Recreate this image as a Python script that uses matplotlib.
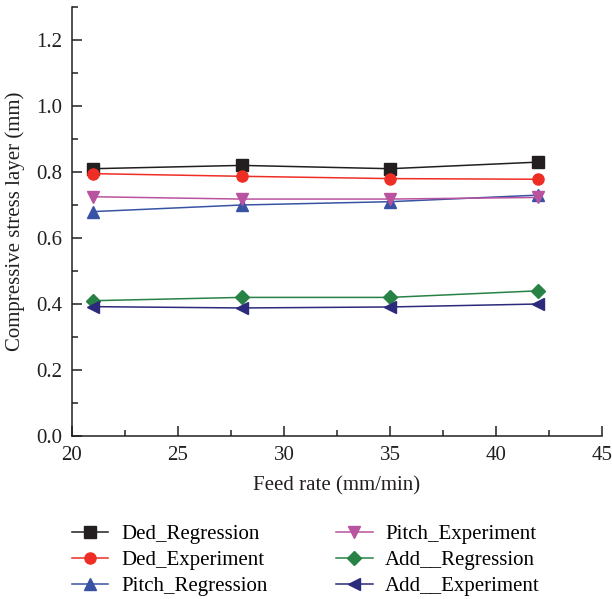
import matplotlib
matplotlib.use("Agg")
import matplotlib.pyplot as plt
from matplotlib.ticker import MultipleLocator

plt.rcParams['font.family'] = ['Liberation Serif', 'DejaVu Serif']

feed = [21, 28, 35, 42]
ded_reg = [0.81, 0.82, 0.81, 0.83]
ded_exp = [0.795, 0.787, 0.780, 0.778]
pitch_reg = [0.68, 0.70, 0.71, 0.73]
pitch_exp = [0.725, 0.718, 0.718, 0.723]
add_reg = [0.41, 0.42, 0.42, 0.44]
add_exp = [0.392, 0.388, 0.391, 0.400]

series = [
    ("Ded_Regression", ded_reg, "#231f20", "s"),
    ("Ded_Experiment", ded_exp, "#ee2e24", "o"),
    ("Pitch_Regression", pitch_reg, "#3953a4", "^"),
    ("Pitch_Experiment", pitch_exp, "#b9529f", "v"),
    ("Add__Regression", add_reg, "#288246", "D"),
    ("Add__Experiment", add_exp, "#2b2a7c", "<"),
]

fig = plt.figure(figsize=(6.12, 5.99), dpi=100)
ax = fig.add_axes([72/612, 1-436/599, 530/612, 429/599])

for name, vals, col, mk in series:
    ms = 7 if mk == "D" else 8
    ax.plot(feed, vals, color=col, marker=mk, markersize=ms, linewidth=1.1, label=name)

ax.set_xlim(20, 45)
ax.set_ylim(0, 1.3)
ax.xaxis.set_major_locator(MultipleLocator(5))
ax.xaxis.set_minor_locator(MultipleLocator(2.5))
ax.yaxis.set_minor_locator(MultipleLocator(0.1))
ax.set_yticks([0, 0.2, 0.4, 0.6, 0.8, 1.0, 1.2])
ax.set_yticklabels(["0.0", "0.2", "0.4", "0.6", "0.8", "1.0", "1.2"])
for s in ["top", "right"]:
    ax.spines[s].set_visible(False)
for s in ["left", "bottom"]:
    ax.spines[s].set_linewidth(1.1)
    ax.spines[s].set_color("#231f20")
ax.tick_params(which="major", direction="in", length=7, width=1.1, labelsize=15, colors="#231f20")
ax.tick_params(which="minor", direction="in", length=4, width=1.1, colors="#231f20")
ax.tick_params(axis="x", pad=7.5)
ax.tick_params(axis="y", pad=7)
ax.set_xlabel("Feed rate (mm/min)", fontsize=15, color="#231f20", labelpad=8)
ax.set_ylabel("Compressive stress layer (mm)", fontsize=15, color="#231f20", labelpad=8)

ax.legend(loc="upper left", bbox_to_anchor=(0.0, -0.207), ncol=2, frameon=False,
          fontsize=15, handlelength=1.75, columnspacing=3.3, labelspacing=0.3,
          handletextpad=0.6, borderpad=0, borderaxespad=0)

fig.savefig("out.png", dpi=100)
